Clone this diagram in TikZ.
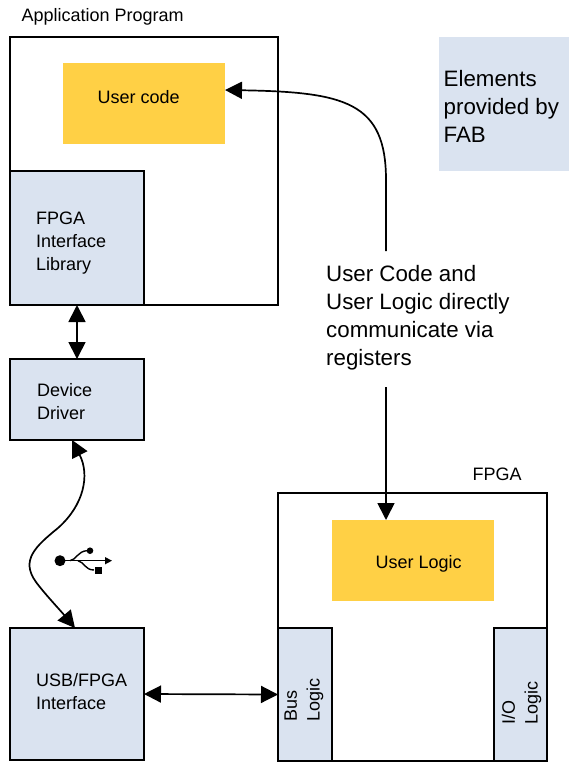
\documentclass[tikz,border=0pt]{standalone}
\usepackage{xcolor}
\usepackage{fontspec}
\setmainfont{Liberation Sans}
\usetikzlibrary{arrows.meta, positioning}
\definecolor{fabblue}{HTML}{DAE3F0}
\definecolor{useryellow}{HTML}{FFD045}
\tikzset{
  box/.style={draw=black, line width=1.4pt, anchor=north west, inner sep=0pt, outer sep=0pt},
  bluebox/.style={box, fill=fabblue},
  yellowbox/.style={anchor=north west, fill=useryellow, inner sep=0pt, outer sep=0pt},
  smalltext/.style={font=\fontsize{18}{22.7}\selectfont, align=left, anchor=west, inner sep=0pt},
  bigtext/.style={font=\fontsize{22.3}{28}\selectfont, align=left, anchor=west, inner sep=0pt},
  link/.style={line width=1.7pt, >={Triangle[length=17pt,width=17pt]}}
}

\begin{document}
\begin{tikzpicture}[x=1pt,y=-1pt]
  \useasboundingbox (0,0) rectangle (569,762);

  % Application side
  \node[smalltext] (apptitle) at (21.5,16.5) {Application Program};
  \node[box, minimum width=268pt, minimum height=268pt] (app) at (10,37) {};
  \node[yellowbox, minimum width=162pt, minimum height=81pt] (usercode) at (63,63) {};
  \node[smalltext] (usercodetext) at (97.5,97.5) {User code};
  \node[bluebox, minimum width=134pt, minimum height=134pt] (lib) at (10,171) {};
  \node[smalltext] (libtext) at (36,243) {FPGA\\Interface\\Library};
  \node[bluebox, minimum width=134pt, minimum height=81pt] (driver) at (10,359) {};
  \node[smalltext] (drivertext) at (37,401.5) {Device\\Driver};
  \node[bluebox, minimum width=134pt, minimum height=132pt] (usbif) at (10,628) {};
  \node[smalltext] (usbiftext) at (36,691.5) {USB/FPGA\\Interface};

  % Legend
  \node[anchor=north west, fill=fabblue, inner sep=0pt, minimum width=130pt, minimum height=134pt] (fab) at (439,37) {};
  \node[bigtext] (fabtext) at (443.5,106) {Elements\\provided by\\FAB};

  % FPGA side
  \node[smalltext] (fpgatitle) at (472.5,474) {FPGA};
  \node[box, minimum width=269pt, minimum height=268pt] (fpga) at (278,493) {};
  \node[yellowbox, minimum width=162pt, minimum height=81pt] (userlogic) at (332,520) {};
  \node[smalltext] (userlogictext) at (375.5,563.5) {User Logic};
  \node[bluebox, minimum width=54pt, minimum height=133pt] (bus) at (278,628) {};
  \node[smalltext, rotate=90] (bustext) at (304,722) {Bus\\Logic};
  \node[bluebox, minimum width=53pt, minimum height=133pt] (io) at (494,628) {};
  \node[smalltext, rotate=90] (iotext) at (521.5,725) {I/O\\Logic};

  % Registers note
  \node[bigtext] (regtext) at (326,318) {User Code and\\User Logic directly\\communicate via\\registers};
  \coordinate (regtop) at (386,251);
  \coordinate (regbottom) at (386,387);
  \coordinate (codeport) at (225,90);

  % Connectors
  \draw[link, <->] (lib.south) -- (driver.north);
  \draw[link, <->] (usbif.east) -- (bus.west);
  \draw[link, <->] ([xshift=-5pt]driver.south) .. controls (90,475) and (84,505) .. (58,528)
    .. controls (36,546) and (20,560) .. (36,582) .. controls (44,593) and (60,610) .. ([xshift=-2pt]usbif.north);
  \draw[link, ->] (regtop) -- (386,180) .. controls (386,102) and (345,92) .. (codeport);
  \draw[link, ->] (regbottom) -- (regbottom |- userlogic.north);

  % USB symbol
  \fill (60,560.7) circle (5.5);
  \draw[line width=1.4pt, -{Triangle[length=7pt,width=7pt]}] (60,560.7) -- (112,560.7);
  \draw[line width=1.4pt] (70,560.7) .. controls (76,560) and (78,551) .. (87,550.7);
  \fill (90,550.7) circle (3.3);
  \draw[line width=1.4pt] (78,560.7) .. controls (84,562) and (85,570) .. (94,570);
  \fill (95,567) rectangle (101.5,573.5);
\end{tikzpicture}
\end{document}
